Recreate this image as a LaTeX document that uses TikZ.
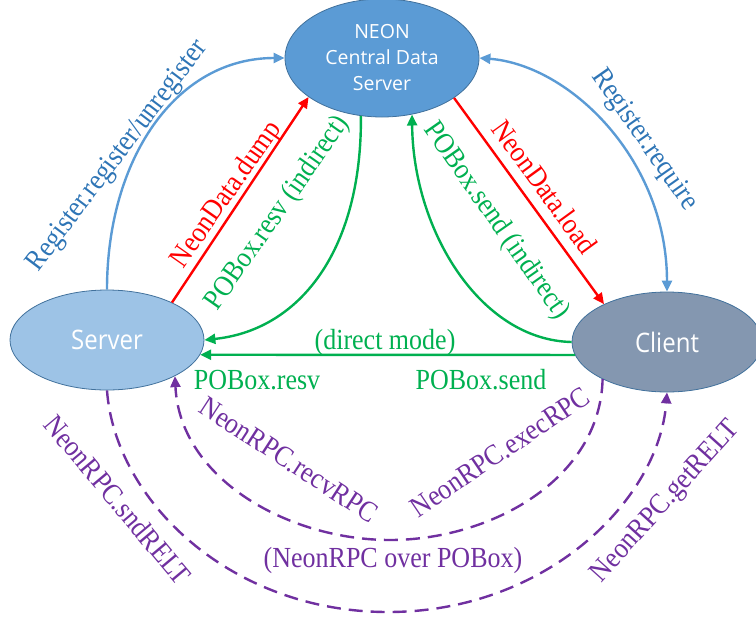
\documentclass[tikz,border=0pt]{standalone}
\usepackage{fontspec}
\usepackage{graphicx}
\setmainfont{Liberation Serif}
\newfontfamily\nodefont{Open Sans}
\usetikzlibrary{arrows.meta,shapes.geometric}
\definecolor{topblue}{HTML}{5B9BD5}
\definecolor{srvblue}{HTML}{9DC3E6}
\definecolor{cligray}{HTML}{8497B0}
\definecolor{borderblue}{HTML}{41719C}
\definecolor{lineblue}{HTML}{5B9BD5}
\definecolor{textblue}{HTML}{2E75B6}
\definecolor{lred}{HTML}{FF0000}
\definecolor{lgreen}{HTML}{00B050}
\definecolor{lpurple}{HTML}{7030A0}
\newcommand{\tallt}[1]{\scalebox{1}[1.12]{#1}}
\begin{document}
\begin{tikzpicture}[x=1pt,y=-1pt,
  ell/.style={ellipse, draw=borderblue, line width=0.8pt, inner sep=0pt, text=white,
    font=\nodefont\fontsize{24}{26}\selectfont},
  conn/.style={line width=2.4pt, -{Triangle[length=11pt,width=10pt]}},
  dconn/.style={conn, dash pattern=on 14pt off 8pt},
  lbl/.style={font=\fontsize{26}{28}\selectfont, inner sep=0pt},
]
\useasboundingbox (0,0) rectangle (756,625);

% nodes
\node[ell, fill=topblue, minimum width=194pt, minimum height=118pt, align=center,
  font=\nodefont\fontsize{19.5}{26}\selectfont] (top) at (382,58) {NEON\\Central Data\\Server};
\node[ell, fill=srvblue, minimum width=194pt, minimum height=100pt] (srv) at (107,340) {\tallt{Server}};
\node[ell, fill=cligray, minimum width=190pt, minimum height=100pt] (cli) at (667,342) {\tallt{Client}};

% blue register connectors
\draw[conn, lineblue] (srv.90) .. controls (107,160) and (175,58) .. (top.180);
\draw[conn, lineblue, {Triangle[length=11pt,width=10pt]}-{Triangle[length=11pt,width=10pt]}]
  (top.0) .. controls (570,65) and (667,160) .. (cli.90);

% red data connectors
\draw[conn, lred] (srv.30) -- (top.208);
\draw[conn, lred] (top.331) -- (cli.149);

% green POBox connectors
\draw[conn, lgreen] (top.250) .. controls (362,250) and (300,330) .. (srv.0);
\draw[conn, lgreen] (cli.180) .. controls (480,340) and (413,230) .. (top.298);
\draw[conn, lgreen] (cli.188) -- (srv.351);

% purple RPC connectors
\coordinate (ob) at (388,612);
\coordinate (ib) at (390,540);
\draw[dconn, lpurple] (srv.270) .. controls (115,500) and (230,612) .. (ob)
  .. controls (546,612) and (659,500) .. (cli.270);
\draw[dconn, lpurple] (cli.210) .. controls (600,480) and (490,540) .. (ib)
  .. controls (290,540) and (180,480) .. (srv.332);

% labels
\node[lbl, text=textblue, rotate=53] (l1) at (118,156) {\tallt{Register.register/unregister}};
\node[lbl, text=textblue, rotate=-55] (l2) at (644,140) {\tallt{Register.require}};
\node[lbl, text=lred, rotate=55] (l3) at (227,195) {\tallt{NeonData.dump}};
\node[lbl, text=lred, rotate=-54] (l4) at (545,187) {\tallt{NeonData.load}};
\node[lbl, text=lgreen, rotate=55] (l5) at (278,213) {\tallt{POBox.resv (indirect)}};
\node[lbl, text=lgreen, rotate=-55] (l6) at (496,221) {\tallt{POBox.send (indirect)}};
\node[lbl, text=lgreen] (l7) at (385,342) {\tallt{(direct mode)}};
\node[lbl, text=lgreen] (l8) at (257,380) {\tallt{POBox.resv}};
\node[lbl, text=lgreen] (l9) at (481,380) {\tallt{POBox.send}};
\node[lbl, text=lpurple, rotate=-50] (l10) at (118,500) {\tallt{NeonRPC.sndRELT}};
\node[lbl, text=lpurple, rotate=48] (l11) at (666,502) {\tallt{NeonRPC.getRELT}};
\node[lbl, text=lpurple, rotate=-33] (l12) at (289,460) {\tallt{NeonRPC.recvRPC}};
\node[lbl, text=lpurple, rotate=34] (l13) at (500,452) {\tallt{NeonRPC.execRPC}};
\node[lbl, text=lpurple] (l14) at (393,560) {\tallt{(NeonRPC over POBox)}};
\end{tikzpicture}
\end{document}
